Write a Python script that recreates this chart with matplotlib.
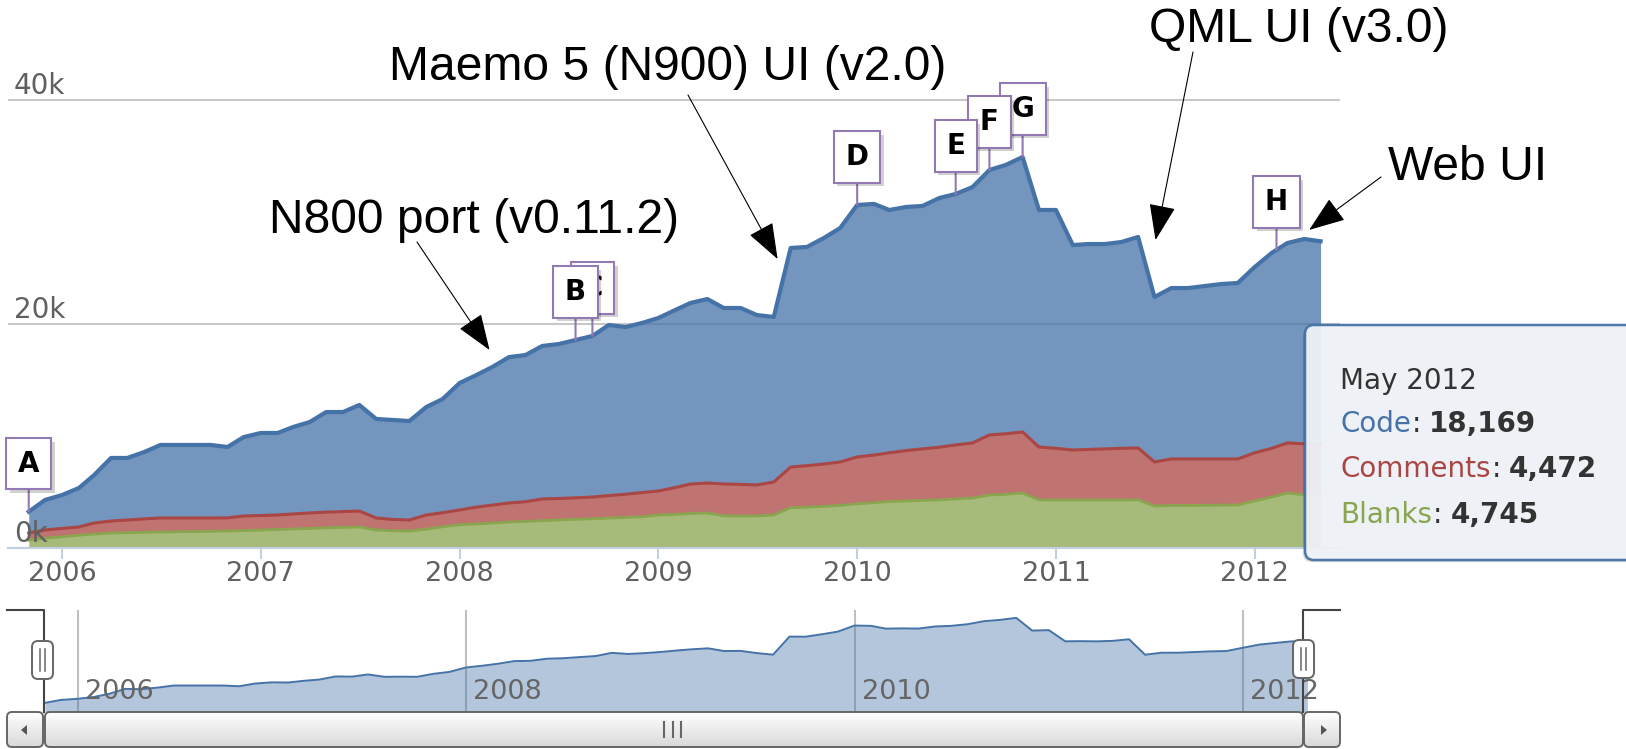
import numpy as np
import pandas as pd
import matplotlib
matplotlib.use("Agg")
import matplotlib.pyplot as plt
import matplotlib.patheffects as pe
from matplotlib.patches import FancyBboxPatch, Polygon

# Monthly line counts, Nov 2005 .. May 2012
months = pd.date_range("2005-11-01", "2012-05-01", freq="MS")
code = [1900, 2680, 2980, 3480, 4290, 5630, 5540, 5970, 6520, 6520,
        6520, 6520, 6330, 7050, 7370, 7320, 7760, 8120, 8940, 8890,
        9470, 8840, 8880, 8840, 9640, 10150, 11330, 11800, 12330, 13030,
        13100, 13660, 13790, 14090, 14380, 15230, 14930, 15140, 15450, 15850,
        16170, 16430, 15710, 15750, 15170, 14740, 19560, 19530, 20180, 20890,
        22500, 22420, 21680, 21750, 21690, 22250, 22410, 22850, 23660, 24000,
        24550, 21160, 21280, 18300, 18340, 18290, 18420, 18840, 14730, 15260,
        15260, 15440, 15620, 15710, 16590, 17440, 17850, 18290, 18169]
comments = [630, 740, 750, 730, 980, 1070, 1130, 1200, 1250, 1230,
            1210, 1190, 1170, 1300, 1300, 1300, 1340, 1380, 1400, 1410,
            1420, 1070, 1010, 980, 1270, 1250, 1320, 1500, 1600, 1700,
            1750, 1940, 1920, 1920, 1940, 2010, 2070, 2160, 2140, 2400,
            2630, 2670, 2850, 2820, 2770, 2940, 3630, 3700, 3780, 3880,
            4180, 4250, 4350, 4500, 4600, 4700, 4820, 4920, 5360, 5400,
            5450, 4720, 4610, 4470, 4520, 4560, 4610, 4630, 3930, 4150,
            4150, 4140, 4120, 4110, 4300, 4350, 4480, 4540, 4472]
blanks = [710, 870, 1000, 1150, 1250, 1340, 1370, 1400, 1430, 1450,
          1470, 1490, 1520, 1560, 1600, 1650, 1700, 1750, 1800, 1840,
          1880, 1610, 1540, 1520, 1680, 1900, 2080, 2150, 2230, 2320,
          2380, 2440, 2500, 2560, 2610, 2670, 2730, 2790, 2950, 3000,
          3080, 3130, 2870, 2860, 2860, 2950, 3600, 3650, 3720, 3800,
          3950, 4050, 4150, 4200, 4250, 4300, 4380, 4460, 4730, 4800,
          4910, 4300, 4290, 4280, 4280, 4290, 4290, 4300, 3750, 3800,
          3800, 3810, 3830, 3840, 4200, 4550, 4900, 4760, 4745]

# flags (events)
flag_letters = ["A", "B", "C", "D", "E", "F", "G", "H"]
flag_dates = ["2005-11-01", "2008-08-01", "2008-09-01", "2010-01-01",
              "2010-07-01", "2010-09-01", "2010-11-01", "2012-02-10"]

# big hand-drawn annotations
annot_texts = ["Maemo 5 (N900) UI (v2.0)", "N800 port (v0.11.2)", "QML UI (v3.0)", "Web UI"]
annot_text_px = [(389, 80), (269, 233), (1149, 42), (1388, 180)]
arrow_from_px = [(688, 95), (417, 242), (1193, 52), (1381, 177)]
arrow_to_date = ["2009-08-08", "2008-02-25", "2011-07-03", "2012-04-10"]
arrow_to_val = [25800, 17680, 27500, 28400]

main_years = [2006, 2007, 2008, 2009, 2010, 2011, 2012]
nav_years = [2006, 2008, 2010, 2012]
y_ticks = [0, 20000, 40000]

BLUE, RED, GREEN = "#4572A7", "#AA4643", "#89A54E"
FLAG = "#9279B4"
W, H = 1626, 749


def dec_year(d):
    d = pd.to_datetime(d)
    return np.asarray(d.year + (d.dayofyear - 1) / 365.25, dtype=float)


def rect(x0, y0, x1, y1):
    return [x0 / W, 1 - y1 / H, (x1 - x0) / W, (y1 - y0) / H]


t = dec_year(months)
code = np.array(code)
comments = np.array(comments)
blanks = np.array(blanks)
red_top = blanks + comments
total = red_top + code

fig = plt.figure(figsize=(W / 100, H / 100), dpi=100)
plt.rcParams["font.family"] = "DejaVu Sans"

# ---- main chart
ax = fig.add_axes(rect(8, 44, 1340, 548))
ax.set_xlim(2005.728, 2012.429)
ax.set_ylim(0, 45000)
ax.patch.set_alpha(0)
for s in ["top", "left", "right"]:
    ax.spines[s].set_visible(False)
ax.spines["bottom"].set_color("#C0D0E0")
ax.spines["bottom"].set_linewidth(1.5)
for v in y_ticks:
    ax.axhline(v, color="#C8C8C8", lw=1.5, zorder=0.5)
    ax.annotate(f"{v // 1000}k", xy=(0, v), xycoords=("axes fraction", "data"),
                xytext=(6, 6), textcoords="offset pixels", fontsize=20,
                color="#606060", va="baseline", ha="left", zorder=6)

ax.fill_between(t, 0, blanks, color=GREEN, alpha=0.75, lw=0, zorder=2)
ax.fill_between(t, blanks, red_top, color=RED, alpha=0.75, lw=0, zorder=2)
ax.fill_between(t, red_top, total, color=BLUE, alpha=0.75, lw=0, zorder=2)
ax.plot(t, blanks, color=GREEN, lw=2, zorder=3, solid_joinstyle="round")
ax.plot(t, red_top, color=RED, lw=2.2, zorder=3, solid_joinstyle="round")
ax.plot(t, total, color=BLUE, lw=3.0, zorder=4, solid_joinstyle="round")

ax.set_yticks([])
ax.set_xticks(main_years)
ax.set_xticklabels([str(y) for y in main_years])
ax.tick_params(axis="x", length=8, width=1.4, color="#C0D0E0", labelsize=19.5,
               labelcolor="#606060", pad=1.5)

# flags on the total series
flag_t = dec_year(flag_dates)
for i, (letter, ft) in enumerate(zip(flag_letters, flag_t)):
    fy = np.interp(ft, t, total)
    a = ax.annotate(letter, xy=(ft, fy), xytext=(0, 48), textcoords="offset pixels",
                    ha="center", va="center", fontsize=20, fontweight="bold",
                    color="black", zorder=20 - i,
                    bbox=dict(boxstyle="square,pad=0.42", fc="white", ec=FLAG, lw=1.5),
                    arrowprops=dict(arrowstyle="-", color=FLAG, lw=1.5,
                                    shrinkA=0, shrinkB=0))
    a.get_bbox_patch().set_path_effects(
        [pe.SimplePatchShadow(offset=(2.5, -2.5), shadow_rgbFace="black", alpha=0.18),
         pe.Normal()])

# ---- navigator
nav = fig.add_axes(rect(7, 610, 1340, 712))
nav.set_xlim(2005.637, 2012.499)
nav.set_ylim(-533, 26645)
nav.axis("off")
for y in nav_years:
    nav.axvline(y, color="#C0C0C0", lw=1.5, zorder=1)
    nav.annotate(str(y), xy=(y, 0), xycoords=("data", "axes fraction"),
                 xytext=(7, 13), textcoords="offset pixels", fontsize=19.5,
                 color="#666666", va="baseline", ha="left", zorder=5)
nav.fill_between(t, -533, code, color=BLUE, alpha=0.4, lw=0, zorder=2)
nav.plot(t, code, color=BLUE, lw=1.4, zorder=3)

# ---- overlay in pixel units for widgets, tooltip and annotations
ov = fig.add_axes([0, 0, 1, 1])
ov.axis("off")
ov.patch.set_alpha(0)
ov.set_zorder(10)


def grad_box(x, y, w, h, r):
    patch = FancyBboxPatch((x, y), w, h, boxstyle=f"round,pad=0,rounding_size={r}",
                           fc="none", ec="#666666", lw=1.4, zorder=7)
    ov.add_patch(patch)
    g = np.linspace(0, 1, 64)[:, None, None]
    top = np.array([1.0, 1.0, 1.0])
    bot = np.array([0.85, 0.85, 0.85])
    img = np.repeat(top * (1 - g) + bot * g, 2, axis=1)
    im = ov.imshow(img, extent=[x, x + w, y + h, y], aspect="auto", zorder=6,
                   interpolation="bilinear")
    im.set_clip_path(patch)


# navigator outline and handles
ov.plot([7, 44, 44], [610, 610, 712], color="#444444", lw=1.5, zorder=5)
ov.plot([1303, 1303, 1340], [712, 610, 610], color="#444444", lw=1.5, zorder=5)
for hx, hy in [(32, 641), (1293, 640)]:
    ov.add_patch(FancyBboxPatch((hx, hy), 21, 38, boxstyle="round,pad=0,rounding_size=6",
                                fc="white", ec="#666666", lw=1.4, zorder=8))
    for dx in (8, 13):
        ov.plot([hx + dx, hx + dx], [hy + 8, hy + 30], color="#666666", lw=1.1, zorder=9)

# scrollbar
grad_box(7, 712, 36, 35, 5)
grad_box(1304, 712, 36, 35, 5)
grad_box(45, 712, 1258, 35, 5)
for gx in (664, 672.5, 681):
    ov.plot([gx, gx], [722, 737], color="#666666", lw=1.5, zorder=8)
ov.add_patch(Polygon([(21, 730), (27, 725), (27, 735)], closed=True, fc="#555555", ec="none", zorder=8))
ov.add_patch(Polygon([(1327, 730), (1321, 725), (1321, 735)], closed=True, fc="#555555", ec="none", zorder=8))

# tooltip
tip = FancyBboxPatch((1305, 325), 340, 235, boxstyle="round,pad=0,rounding_size=9",
                     fc="#F0F3F8", ec=BLUE, lw=1.8, alpha=0.95, zorder=20)
tip.set_path_effects([pe.SimplePatchShadow(offset=(-1.5, -1.5), shadow_rgbFace="black", alpha=0.15),
                      pe.Normal()])
ov.add_patch(tip)
ov.text(1340, 389, months[-1].strftime("%b %Y"), fontsize=20, color="#333333",
        va="baseline", ha="left", zorder=21)
rows = [("Code", code[-1], BLUE, 432), ("Comments", comments[-1], RED, 477),
        ("Blanks", blanks[-1], GREEN, 523)]
for name, val, col, yb in rows:
    n = ov.text(1340, yb, name, fontsize=20, color=col, va="baseline", ha="left", zorder=21)
    c = ov.annotate(":", xy=(1, 0), xycoords=n, xytext=(1, 0), textcoords="offset pixels",
                    fontsize=20, color="#333333", va="bottom", ha="left", zorder=21)
    ov.annotate(f"{val:,}", xy=(1, 0), xycoords=c, xytext=(8, 0), textcoords="offset pixels",
                fontsize=20, fontweight="bold", color="#333333", va="bottom", ha="left",
                zorder=21)

# annotations with arrows
for txt, (tx, ty), (fx, fy), d, v in zip(annot_texts, annot_text_px, arrow_from_px,
                                         arrow_to_date, arrow_to_val):
    ov.text(tx, ty, txt, fontsize=34.6, family="Liberation Sans", color="black",
            va="baseline", ha="left", zorder=22)
    ov.annotate("", xy=(dec_year([d])[0], v), xycoords=ax.transData,
                xytext=(fx, fy), textcoords="data",
                arrowprops=dict(arrowstyle="-|>,head_length=23,head_width=8.5",
                                mutation_scale=1, color="black", lw=0.8,
                                shrinkA=0, shrinkB=0), zorder=22)

ov.set_xlim(0, W)
ov.set_ylim(H, 0)

fig.savefig("out.png", dpi=100)
